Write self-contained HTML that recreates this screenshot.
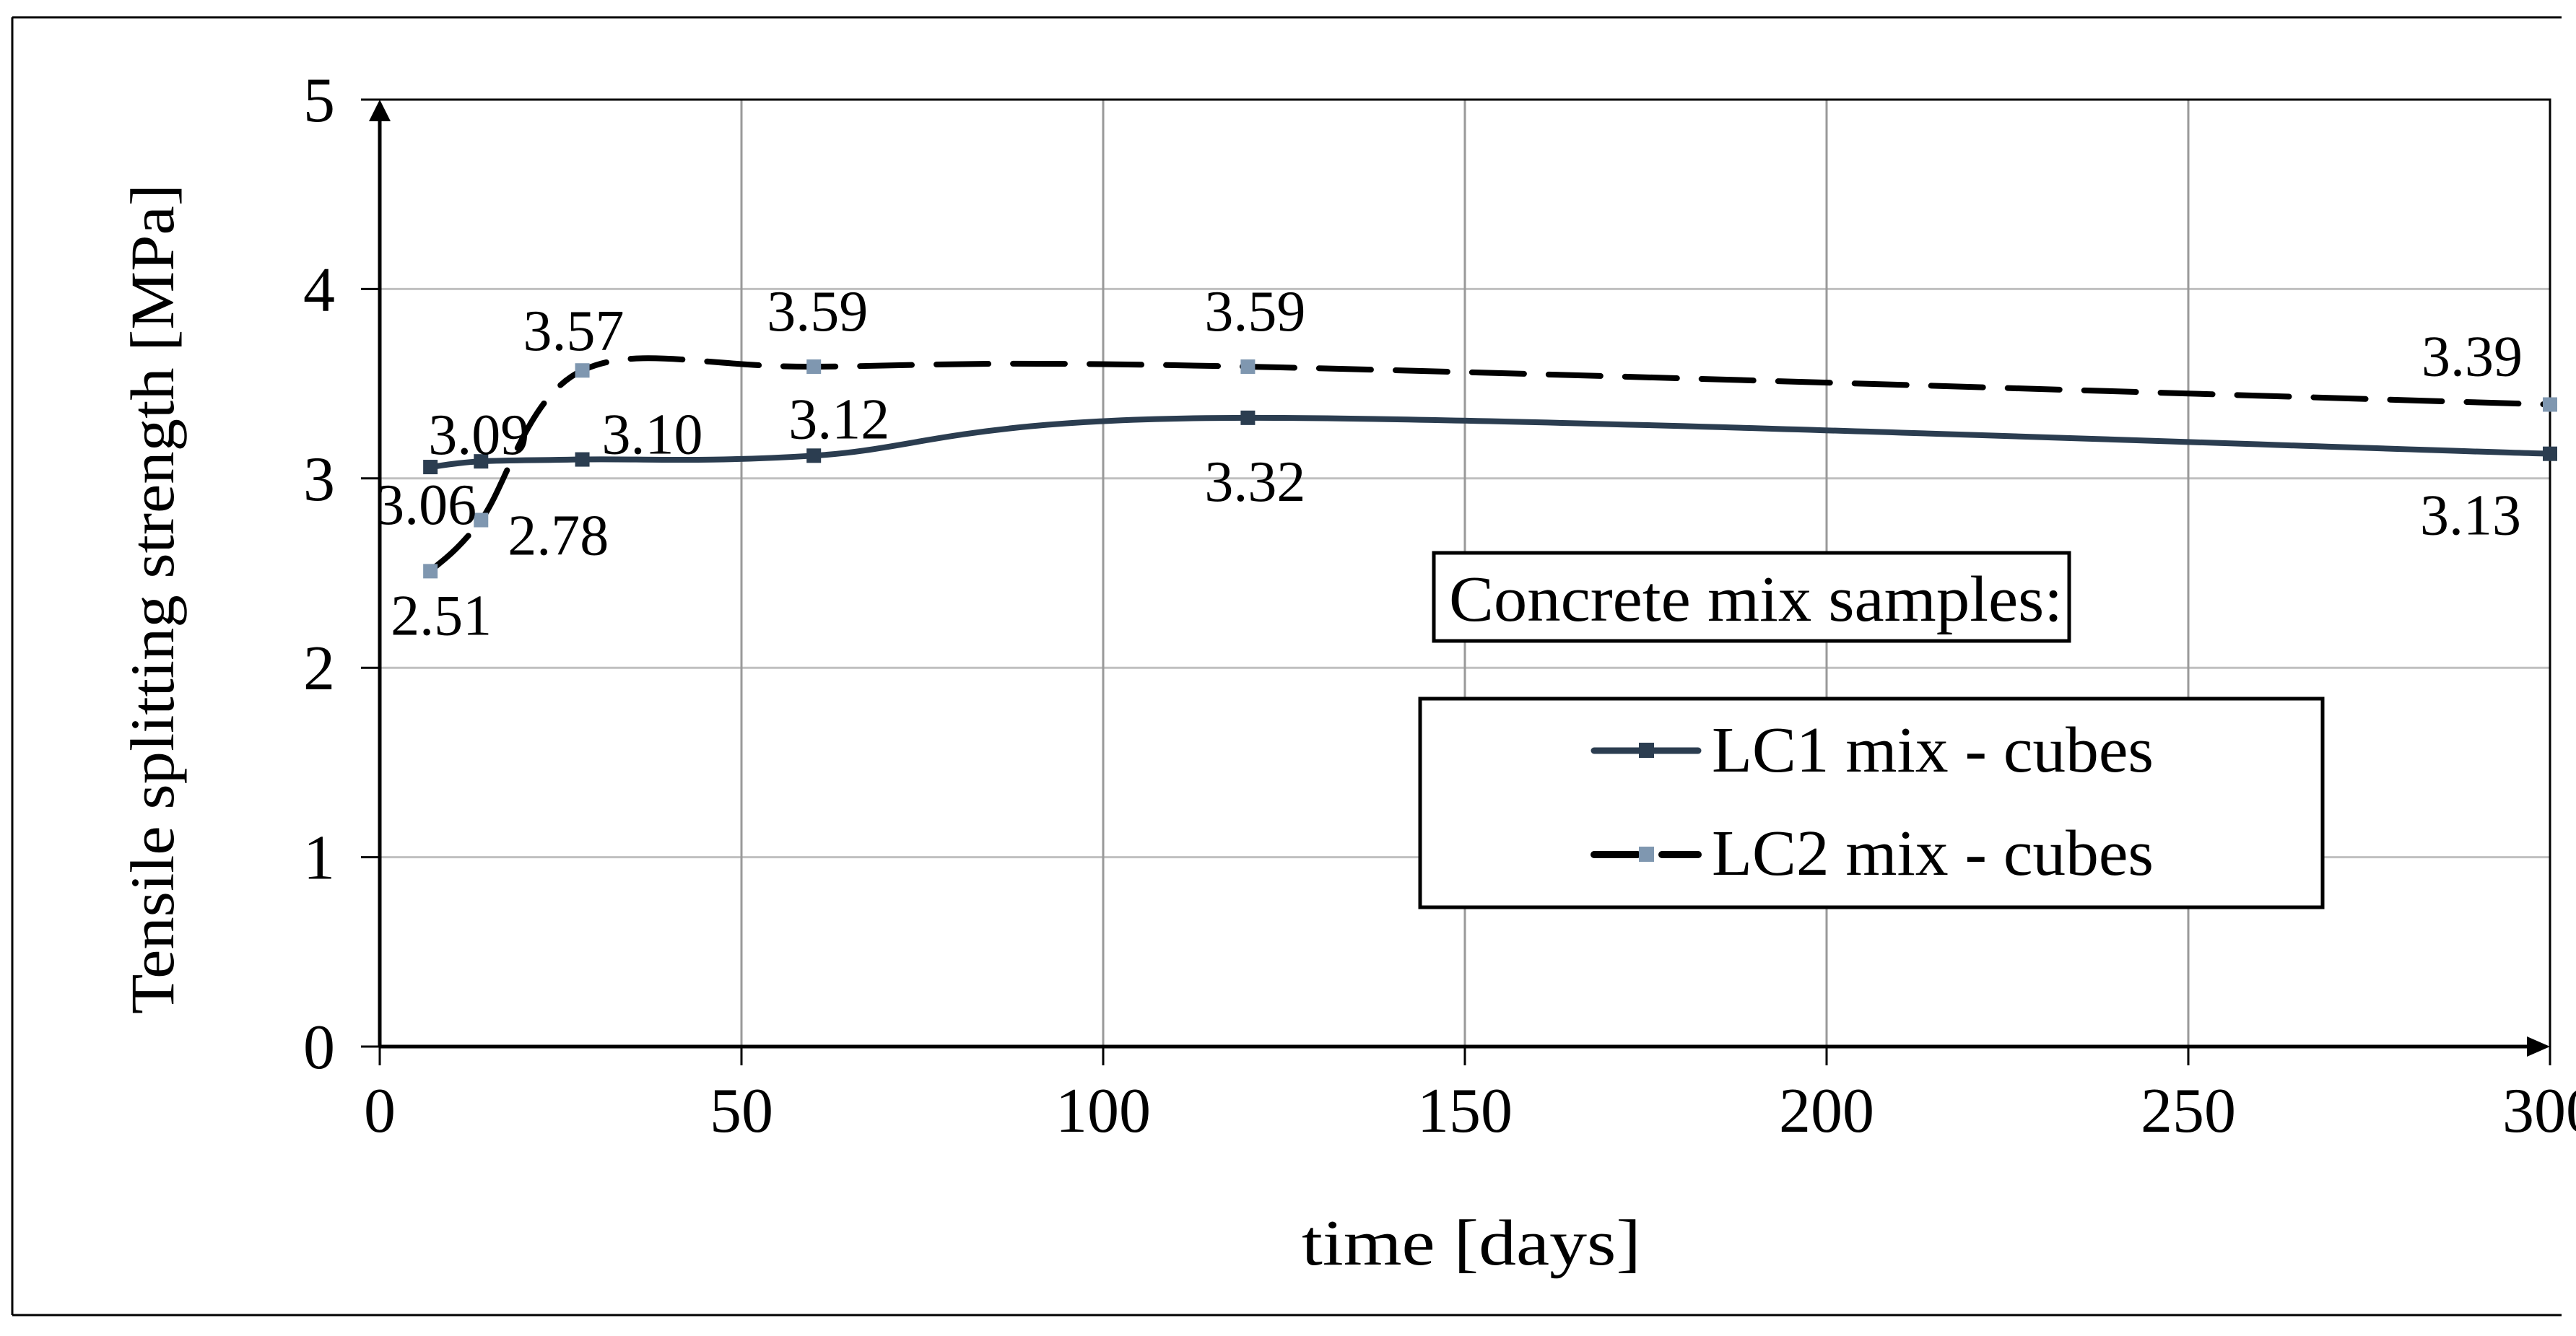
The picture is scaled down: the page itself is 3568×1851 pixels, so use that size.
<!DOCTYPE html>
<html><head><meta charset="utf-8"><style>
html,body{margin:0;padding:0;background:#fff;}
svg{display:block;}
text{font-family:"Liberation Serif",serif;fill:#000;}
</style></head><body>
<svg id="chart" width="3568" height="1851" viewBox="0 0 3568 1851" xmlns="http://www.w3.org/2000/svg">
<line x1="17" y1="24" x2="3548" y2="24" stroke="#000" stroke-width="3"/>
<line x1="17" y1="1822" x2="3548" y2="1822" stroke="#000" stroke-width="3"/>
<line x1="17" y1="24" x2="17" y2="1822" stroke="#000" stroke-width="3"/>
<g id="grid"></g>
<g id="axes"></g>
<g id="series"></g>
<g id="labels"></g>
<text transform="translate(240,830) rotate(-90)" text-anchor="middle" font-size="86" textLength="1150" lengthAdjust="spacingAndGlyphs">Tensile splitting strength [MPa]</text>
<text x="2038" y="1752" text-anchor="middle" font-size="90" textLength="470" lengthAdjust="spacingAndGlyphs">time [days]</text>
<g>
<rect x="1986" y="766" width="880" height="122" fill="#fff" stroke="#000" stroke-width="5"/>
<text x="2007" y="860" font-size="90" textLength="850" lengthAdjust="spacingAndGlyphs">Concrete mix samples:</text>
</g>
<g>
<rect x="1967" y="968" width="1250" height="289" fill="#fff" stroke="#000" stroke-width="5"/>
<g>
<line x1="2208" y1="1040" x2="2352" y2="1040" stroke="#2b3d50" stroke-width="9" stroke-linecap="round"/>
<rect x="2270" y="1029" width="21" height="21" fill="#2b3d50"/>
<text x="2371" y="1069" font-size="90" textLength="612" lengthAdjust="spacingAndGlyphs">LC1 mix - cubes</text>
</g>
<g>
<line x1="2208" y1="1184" x2="2268" y2="1184" stroke="#000" stroke-width="10" stroke-linecap="round"/>
<line x1="2302" y1="1184" x2="2352" y2="1184" stroke="#000" stroke-width="10" stroke-linecap="round"/>
<rect x="2270" y="1173" width="21" height="21" fill="#7f97b0"/>
<text x="2371" y="1212" font-size="90" textLength="612" lengthAdjust="spacingAndGlyphs">LC2 mix - cubes</text>
</g>
</g>
</svg>
<script>
const days = [7, 14, 28, 60, 120, 300];
const lc1Values = [3.06, 3.09, 3.10, 3.12, 3.32, 3.13];
const lc2Values = [2.51, 2.78, 3.57, 3.59, 3.59, 3.39];
const lc1Labels = ["3.06", "3.09", "3.10", "3.12", "3.32", "3.13"];
const lc2Labels = ["2.51", "2.78", "3.57", "3.59", "3.59", "3.39"];
const xTicks = [0, 50, 100, 150, 200, 250, 300];
const yTicks = [0, 1, 2, 3, 4, 5];
// label offsets (layout, not data)
const lc1Off = [[-6, 79], [-3, -10], [97, -8], [35, -24], [10, 115], [-110, 112]];
const lc2Off = [[15, 88], [107, 48], [-12, -28], [5, -50], [10, -50], [-108, -40]];

const NS = "http://www.w3.org/2000/svg";
const X0 = 526, XW = 3006, Y0 = 1450, YH = 1312;
const sx = d => X0 + d / 300 * XW;
const sy = v => Y0 - v / 5 * YH;
function mk(tag, attrs, parent) {
  const e = document.createElementNS(NS, tag);
  for (const k in attrs) e.setAttribute(k, attrs[k]);
  parent.appendChild(e);
  return e;
}
const grid = document.getElementById('grid');
const axes = document.getElementById('axes');
const series = document.getElementById('series');
const labels = document.getElementById('labels');

yTicks.forEach(v => {
  if (v > 0 && v < 5) {
    const g = mk('line', {x1: X0, y1: sy(v), x2: X0 + XW, y2: sy(v), stroke: '#c0c0c0', 'stroke-width': 3}, grid);
    
    
  }
  const t = mk('line', {x1: X0 - 26, y1: sy(v), x2: X0, y2: sy(v), stroke: '#000', 'stroke-width': 3}, axes);
  
  
  const l = mk('text', {x: X0 - 62, y: sy(v) + 30, 'text-anchor': 'end', 'font-size': 88}, axes);
  l.textContent = v;
  
  
});
xTicks.forEach(d => {
  if (d > 0 && d < 300) {
    const g = mk('line', {x1: sx(d), y1: sy(5), x2: sx(d), y2: Y0, stroke: '#999', 'stroke-width': 3}, grid);
    
    
  }
  const t = mk('line', {x1: sx(d), y1: Y0, x2: sx(d), y2: Y0 + 26, stroke: '#000', 'stroke-width': 3}, axes);
  
  
  const l = mk('text', {x: sx(d), y: Y0 + 118, 'text-anchor': 'middle', 'font-size': 88}, axes);
  l.textContent = d;
  
  
});
let b = mk('path', {d: `M${X0} ${sy(5)} H${X0 + XW} V${Y0}`, fill: 'none', stroke: '#000', 'stroke-width': 3}, axes);


let ya = mk('line', {x1: X0, y1: Y0, x2: X0, y2: sy(5) + 20, stroke: '#000', 'stroke-width': 5}, axes);


let yarr = mk('path', {d: `M${X0} ${sy(5)} l-15 30 h30 z`, fill: '#000'}, axes);


let xa = mk('line', {x1: X0, y1: Y0, x2: X0 + XW - 20, y2: Y0, stroke: '#000', 'stroke-width': 5}, axes);


let xarr = mk('path', {d: `M${X0 + XW} ${Y0} l-32 -14 v28 z`, fill: '#000'}, axes);



function smoothPath(pts) {
  let d = `M${pts[0][0]} ${pts[0][1]}`;
  const t = 1 / 6;
  for (let i = 0; i < pts.length - 1; i++) {
    const p0 = pts[Math.max(0, i - 1)], p1 = pts[i], p2 = pts[i + 1], p3 = pts[Math.min(pts.length - 1, i + 2)];
    const c1 = [p1[0] + (p2[0] - p0[0]) * t, p1[1] + (p2[1] - p0[1]) * t];
    const c2 = [p2[0] - (p3[0] - p1[0]) * t, p2[1] - (p3[1] - p1[1]) * t];
    d += ` C${c1[0]} ${c1[1]} ${c2[0]} ${c2[1]} ${p2[0]} ${p2[1]}`;
  }
  return d;
}
function drawSeries(vals, labs, offs, name, color, mcolor, dash) {
  const pts = days.map((d, i) => [sx(d), sy(vals[i])]);
  const attrs = {d: smoothPath(pts), fill: 'none', stroke: color, 'stroke-width': 8, 'stroke-linecap': 'round'};
  if (dash) attrs['stroke-dasharray'] = dash;
  const p = mk('path', attrs, series);
  
  
  pts.forEach((pt, i) => {
    const m = mk('rect', {x: pt[0] - 10, y: pt[1] - 10, width: 20, height: 20, fill: mcolor}, series);
    
    
    const t = mk('text', {x: pt[0] + offs[i][0], y: pt[1] + offs[i][1], 'text-anchor': 'middle', 'font-size': 80}, labels);
    t.textContent = labs[i];
    
    
  });
}
drawSeries(lc1Values, lc1Labels, lc1Off, 'lc1', '#2b3d50', '#2b3d50', null);
drawSeries(lc2Values, lc2Labels, lc2Off, 'lc2', '#000', '#7f97b0', '72 34');
</script>
</body></html>
